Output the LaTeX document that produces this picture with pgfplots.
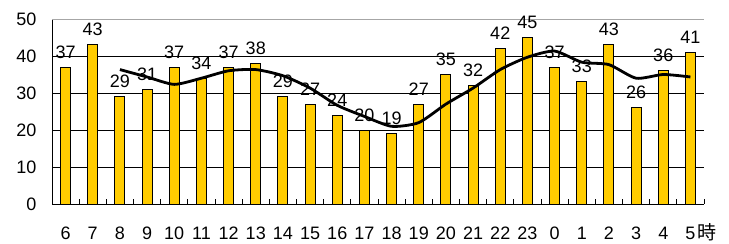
\documentclass[border=0pt]{standalone}
\usepackage{fontspec}
\setmainfont{Liberation Sans}
\newfontfamily\cjk{Noto Sans CJK JP}
\usepackage{pgfplots}
\pgfplotsset{compat=1.18}
\definecolor{baryellow}{HTML}{FFCC00}
\begin{document}
\begin{tikzpicture}
\useasboundingbox (-52bp,-40bp) rectangle (677bp,204bp);
\begin{axis}[
  scale only axis,
  width=652bp, height=185bp,
  xmin=-0.5, xmax=23.5,
  ymin=0, ymax=50,
  axis lines=left,
  axis line style={-, black, line width=1bp},
  xtick={0,...,23},
  xticklabels={6,7,8,9,10,11,12,13,14,15,16,17,18,19,20,21,22,23,0,1,2,3,4,5\rlap{\kern2bp\smash{\raisebox{0.5bp}{\cjk\fontsize{19bp}{19bp}\selectfont 時}}}},
  major x tick style={draw=none},
  minor xtick={-0.5,0.5,...,23.5},
  minor tick length=5bp,
  minor x tick style={black, line width=0.8bp},
  tick align=inside,
  xtick pos=bottom,
  ytick={0,10,20,30,40},
  extra y ticks={50},
  extra y tick style={major grid style={gray!70, line width=1bp}},
  ytick style={draw=none},
  ymajorgrids,
  major grid style={black, line width=0.8bp},
  ticklabel style={font=\fontsize{18bp}{18bp}\selectfont},
  xticklabel style={yshift=-19bp, text height=13bp, text depth=0pt},
  yticklabel style={xshift=-12bp},
  /pgf/number format/assume math mode=true,
  clip=false,
]
\addplot[ybar, bar width=10bp, fill=baryellow, draw=black, line width=1bp,
  nodes near coords,
  every node near coord/.append style={font=\fontsize{18bp}{18bp}\selectfont, yshift=5bp, black}]
coordinates {
(0,37) (1,43) (2,29) (3,31) (4,37) (5,34) (6,37) (7,38) (8,29) (9,27) (10,24) (11,20)
(12,19) (13,27) (14,35) (15,32) (16,42) (17,45) (18,37) (19,33) (20,43) (21,26) (22,36) (23,41)
};
\addplot[black, line width=2.8bp, smooth, tension=0.4, no marks]
coordinates {
(2,36.33) (3,34.33) (4,32.33) (5,34) (6,36) (7,36.33) (8,34.67) (9,31.33) (10,26.67)
(11,23.67) (12,21) (13,22) (14,27) (15,31.33) (16,36.33) (17,39.67) (18,41.33) (19,38.33)
(20,37.67) (21,34) (22,35) (23,34.33)
};
\end{axis}
\end{tikzpicture}
\end{document}
